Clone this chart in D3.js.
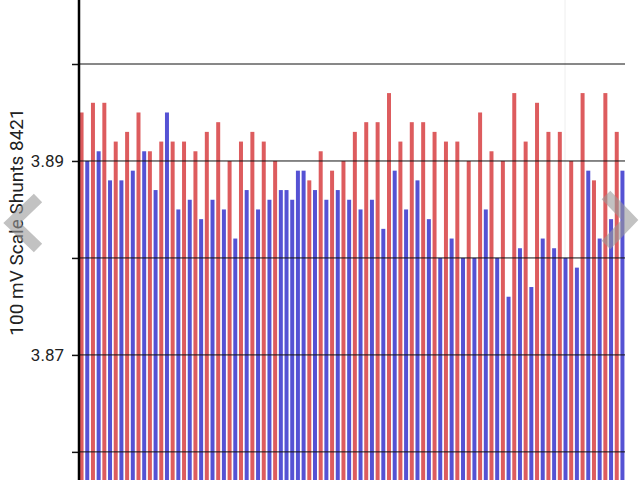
<!DOCTYPE html>
<html>
<head>
<meta charset="utf-8">
<script src="https://cdn.jsdelivr.net/npm/d3@7"></script>
<style>
  body { margin: 0; background: #fff; }
  svg { display: block; font-family: "Liberation Sans", Arial, sans-serif; }
</style>
</head>
<body>
<svg id="chart" width="640" height="480"></svg>
<script>
// bar values in order, left to right
const values = [
  3.895, 3.890, 3.896, 3.891, 3.896, 3.888, 3.892, 3.888, 3.893, 3.889, 3.895, 3.891,
  3.891, 3.887, 3.892, 3.895, 3.892, 3.885, 3.892, 3.886, 3.891, 3.884, 3.893, 3.886,
  3.894, 3.885, 3.890, 3.882, 3.892, 3.887, 3.893, 3.885, 3.892, 3.886, 3.890, 3.887,
  3.887, 3.886, 3.889, 3.889, 3.888, 3.887, 3.891, 3.886, 3.889, 3.887, 3.890, 3.886,
  3.893, 3.885, 3.894, 3.886, 3.894, 3.883, 3.897, 3.889, 3.892, 3.885, 3.894, 3.888,
  3.894, 3.884, 3.893, 3.880, 3.892, 3.882, 3.892, 3.880, 3.890, 3.880, 3.895, 3.885,
  3.891, 3.880, 3.890, 3.876, 3.897, 3.881, 3.892, 3.877, 3.896, 3.882, 3.893, 3.881,
  3.893, 3.880, 3.890, 3.879, 3.897, 3.889, 3.888, 3.882, 3.897, 3.884, 3.893, 3.889
];
// colour group of each bar: R = red, B = blue
const groups = "RBRBRBRBRBRBRBRBRBRBRBRBRBRBRBRBRBRBBBBBRBRBRBRBRBRBRBRBRBRBRBRBRBRBRBRBRBRBRBRBRBRBRBRBRBRBRBRB".split("");
const gridValues = [3.86, 3.87, 3.88, 3.89, 3.90];
const tickLabels = [3.87, 3.89];

const colors = { R: "#dd5c5e", B: "#5552d4" };

const svg = d3.select("#chart");
const left = 79, right = 625;

const x = d3.scaleBand()
    .domain(d3.range(values.length))
    .range([left, right])
    .paddingInner(0.3)
    .paddingOuter(0.1);

const y = d3.scaleLinear()
    .domain([3.8571, 3.9066])
    .range([480, 0]);

// faint vertical line in the background
svg.append("line")
    .attr("x1", 565).attr("x2", 565)
    .attr("y1", 0).attr("y2", 480)
    .attr("stroke", "#eee");

svg.append("g")
    .selectAll("rect")
    .data(values)
    .join("rect")
    .attr("x", (d, i) => x(i))
    .attr("width", x.bandwidth())
    .attr("y", d => y(d))
    .attr("height", d => 480 - y(d))
    .attr("fill", (d, i) => colors[groups[i]]);

svg.append("g")
    .selectAll("line")
    .data(gridValues)
    .join("line")
    .attr("x1", left).attr("x2", right)
    .attr("y1", d => y(d)).attr("y2", d => y(d))
    .attr("stroke", "#111")
    .attr("stroke-width", 1);

const axis = svg.append("g")
    .attr("transform", `translate(${left},0)`)
    .call(d3.axisLeft(y).tickValues(gridValues).tickSize(7)
        .tickFormat(d => tickLabels.some(t => Math.abs(t - d) < 1e-9) ? d3.format(".2f")(d) : ""));
axis.select(".domain").remove();
axis.selectAll(".tick line").attr("stroke", "#111").attr("stroke-width", 1.5);
axis.selectAll(".tick text")
    .style("font-size", "17px")
    .style("font-family", "Roboto, 'Liberation Sans', sans-serif")
    .attr("fill", "#222").attr("x", -15);

svg.append("line")
    .attr("x1", left).attr("x2", left)
    .attr("y1", 0).attr("y2", 480)
    .attr("stroke", "#000")
    .attr("stroke-width", 2.5);

svg.append("text")
    .attr("transform", "rotate(-90)")
    .attr("x", -222)
    .attr("y", 23)
    .attr("text-anchor", "middle")
    .style("font-size", "19px")
    .style("font-family", "Roboto, 'Liberation Sans', sans-serif")
    .attr("fill", "#222")
    .text("100 mV Scale Shunts 8421");

// navigation chevrons
svg.append("path")
    .attr("d", "M38,198 L12,223 L38,248")
    .attr("fill", "none")
    .attr("stroke", "#999")
    .attr("stroke-width", 12)
    .attr("opacity", 0.6);
svg.append("path")
    .attr("d", "M606,195 L630,220 L606,245")
    .attr("fill", "none")
    .attr("stroke", "#999")
    .attr("stroke-width", 12)
    .attr("opacity", 0.6);
</script>
</body>
</html>
